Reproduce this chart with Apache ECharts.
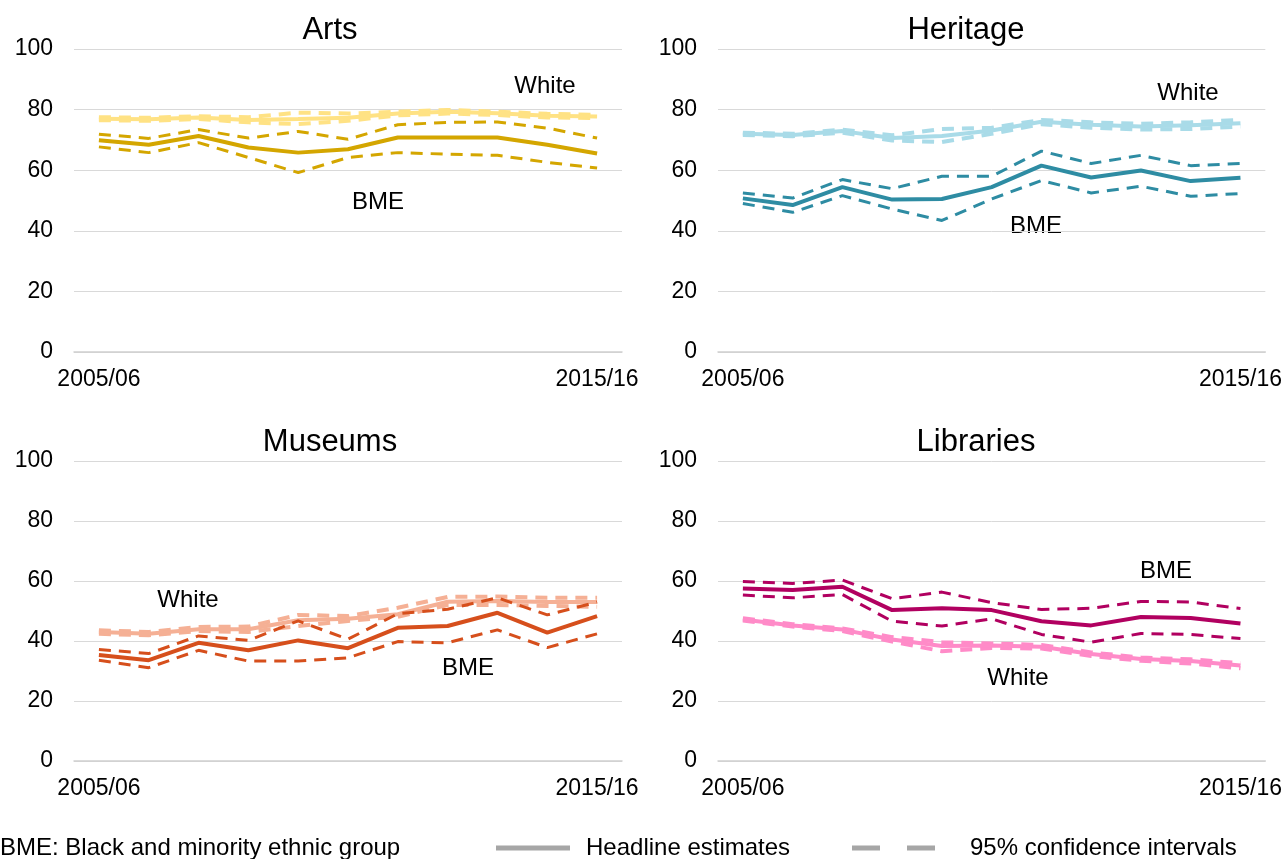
<!DOCTYPE html>
<html>
<head>
<meta charset="utf-8">
<script src="https://cdn.jsdelivr.net/npm/echarts@6/dist/echarts.min.js"></script>
<style>
  html, body { margin: 0; padding: 0; background: #fff; }
  #chart { width: 1285px; height: 859px; }
</style>
</head>
<body>
<div id="chart"></div>
<script>
// years on the x axis
const years = ['2005/06', '2006/07', '2007/08', '2008/09', '2009/10', '2010/11',
               '2011/12', '2012/13', '2013/14', '2014/15', '2015/16'];
const yTicks = [0, 20, 40, 60, 80, 100];

// Arts
const artsWhite      = [77.0, 76.8, 77.4, 76.6, 76.9, 77.3, 78.7, 79.3, 78.8, 78.0, 77.7];
const artsWhiteUpper = [77.5, 77.3, 77.8, 77.5, 79.0, 78.7, 79.3, 79.9, 79.3, 78.6, 78.3];
const artsWhiteLower = [76.5, 76.3, 76.9, 75.8, 75.2, 76.3, 78.1, 78.7, 78.2, 77.4, 77.2];
const artsBme        = [69.9, 68.4, 71.3, 67.5, 65.8, 66.9, 70.8, 70.8, 70.8, 68.4, 65.5];
const artsBmeUpper   = [71.9, 70.5, 73.4, 70.6, 72.8, 70.2, 75.0, 75.8, 75.9, 73.9, 70.6];
const artsBmeLower   = [67.7, 65.8, 69.1, 64.2, 59.2, 64.2, 65.8, 65.3, 64.9, 62.6, 60.7];

// Heritage
const heritageWhite      = [72.0, 71.6, 72.9, 70.6, 71.3, 73.1, 76.0, 75.0, 74.4, 74.8, 75.5];
const heritageWhiteUpper = [72.4, 72.0, 73.4, 71.5, 73.6, 74.0, 76.6, 75.8, 75.3, 75.8, 76.6];
const heritageWhiteLower = [71.6, 71.2, 72.4, 69.8, 69.3, 72.0, 75.2, 74.0, 73.4, 73.6, 74.4];
const heritageBme        = [50.7, 48.5, 54.4, 50.3, 50.5, 54.4, 61.5, 57.6, 59.9, 56.4, 57.5];
const heritageBmeUpper   = [52.5, 50.8, 56.9, 53.9, 58.0, 58.0, 66.3, 62.2, 64.9, 61.5, 62.2];
const heritageBmeLower   = [49.0, 46.1, 51.6, 47.2, 43.4, 50.5, 56.6, 52.5, 54.7, 51.4, 52.3];

// Museums
const museumsWhite      = [43.0, 42.4, 43.9, 43.9, 46.9, 47.4, 48.9, 53.1, 53.3, 53.0, 53.0];
const museumsWhiteUpper = [43.6, 43.0, 44.7, 44.8, 48.7, 48.3, 51.1, 54.7, 54.8, 54.4, 54.4];
const museumsWhiteLower = [42.4, 41.9, 43.3, 43.0, 45.0, 46.7, 48.1, 52.0, 52.0, 51.7, 51.4];
const museumsBme        = [35.3, 33.6, 39.4, 36.9, 40.2, 37.6, 44.4, 45.0, 49.4, 42.8, 48.3];
const museumsBmeUpper   = [37.2, 35.8, 41.7, 40.2, 46.7, 40.6, 49.1, 50.6, 54.4, 48.7, 53.0];
const museumsBmeLower   = [33.6, 31.1, 36.9, 33.3, 33.3, 34.4, 39.8, 39.4, 43.7, 37.8, 42.4];

// Libraries
const librariesWhite      = [47.2, 45.2, 43.8, 40.5, 38.3, 38.5, 38.1, 35.7, 34.0, 33.3, 31.8];
const librariesWhiteUpper = [47.6, 45.6, 44.2, 41.3, 39.6, 39.2, 38.7, 36.2, 34.5, 33.9, 32.6];
const librariesWhiteLower = [46.8, 44.8, 43.3, 39.8, 36.6, 37.7, 37.5, 35.0, 33.4, 32.5, 30.9];
const librariesBme        = [57.5, 57.0, 58.1, 50.3, 50.9, 50.3, 46.6, 45.2, 48.0, 47.7, 45.8];
const librariesBmeUpper   = [59.8, 59.2, 60.3, 54.1, 56.3, 52.8, 50.5, 50.9, 53.2, 53.0, 50.8];
const librariesBmeLower   = [55.3, 54.4, 55.5, 46.6, 45.0, 47.4, 42.2, 39.6, 42.5, 42.2, 40.8];

const FONT = 'Arial, "Liberation Sans", sans-serif';
const DASH = [12, 8];
const LEGEND_GREY = '#a6a6a6';

const panels = [
    { title: 'Arts', white: [artsWhite, artsWhiteUpper, artsWhiteLower],
      bme: [artsBme, artsBmeUpper, artsBmeLower], bmeColor: '#d4a600', whiteColor: '#ffe284',
      grid: { left: 74, top: 49, width: 548, height: 303 }, titlePos: [325, 10],
      whiteLabel: [545, 86], bmeLabel: [378, 202] },
    { title: 'Heritage', white: [heritageWhite, heritageWhiteUpper, heritageWhiteLower],
      bme: [heritageBme, heritageBmeUpper, heritageBmeLower], bmeColor: '#2e8ca3', whiteColor: '#a9dbe8',
      grid: { left: 718, top: 49, width: 548, height: 303 }, titlePos: [961, 10],
      whiteLabel: [1188, 93], bmeLabel: [1036, 226] },
    { title: 'Museums', white: [museumsWhite, museumsWhiteUpper, museumsWhiteLower],
      bme: [museumsBme, museumsBmeUpper, museumsBmeLower], bmeColor: '#d64f1c', whiteColor: '#f5b095',
      grid: { left: 74, top: 461, width: 548, height: 300 }, titlePos: [325, 422],
      whiteLabel: [188, 600], bmeLabel: [468, 668] },
    { title: 'Libraries', white: [librariesWhite, librariesWhiteUpper, librariesWhiteLower],
      bme: [librariesBme, librariesBmeUpper, librariesBmeLower], bmeColor: '#b10060', whiteColor: '#ff8bc8',
      grid: { left: 718, top: 461, width: 548, height: 300 }, titlePos: [971, 422],
      whiteLabel: [1018, 678], bmeLabel: [1166, 571] }
];

function lineSeries(idx, data, color, width, dashed) {
    return {
        type: 'line',
        xAxisIndex: idx,
        yAxisIndex: idx,
        data: data,
        symbol: 'none',
        silent: true,
        lineStyle: { color: color, width: width, type: dashed ? DASH : 'solid', cap: 'butt' }
    };
}

function text(x, y, str, align) {
    return {
        type: 'text', x: x, y: y,
        style: { text: str, fill: '#000', font: '24px ' + FONT, textAlign: align || 'center', textVerticalAlign: 'middle' }
    };
}

const series = [];
const graphics = [];
panels.forEach((p, i) => {
    series.push(lineSeries(i, p.white[1], p.whiteColor, 4, true));
    series.push(lineSeries(i, p.white[2], p.whiteColor, 4, true));
    series.push(lineSeries(i, p.white[0], p.whiteColor, 4, false));
    series.push(lineSeries(i, p.bme[1], p.bmeColor, 3, true));
    series.push(lineSeries(i, p.bme[2], p.bmeColor, 3, true));
    series.push(lineSeries(i, p.bme[0], p.bmeColor, 4, false));
    graphics.push(text(p.whiteLabel[0], p.whiteLabel[1], 'White'));
    graphics.push(text(p.bmeLabel[0], p.bmeLabel[1], 'BME'));
});

// key along the bottom
graphics.push(text(0, 848, 'BME: Black and minority ethnic group', 'left'));
graphics.push({ type: 'line', shape: { x1: 496, y1: 848, x2: 570, y2: 848 },
    style: { stroke: LEGEND_GREY, lineWidth: 5 } });
graphics.push(text(586, 848, 'Headline estimates', 'left'));
graphics.push({ type: 'line', shape: { x1: 852, y1: 848, x2: 936, y2: 848 },
    style: { stroke: LEGEND_GREY, lineWidth: 5, lineDash: [28, 27] } });
graphics.push(text(970, 848, '95% confidence intervals', 'left'));

const option = {
    backgroundColor: '#ffffff',
    animation: false,
    textStyle: { fontFamily: FONT },
    title: panels.map(p => ({
        text: p.title, left: p.titlePos[0], top: p.titlePos[1], textAlign: 'center',
        textStyle: { fontSize: 31, fontWeight: 'normal', color: '#000', fontFamily: FONT }
    })),
    grid: panels.map(p => p.grid),
    xAxis: panels.map((p, i) => ({
        type: 'category',
        gridIndex: i,
        data: years,
        boundaryGap: true,
        axisTick: { show: false },
        axisLine: { show: true, lineStyle: { color: '#d0d0d0', width: 1.5 } },
        axisLabel: {
            interval: (index) => index === 0 || index === years.length - 1,
            color: '#000', fontSize: 23, fontFamily: FONT, margin: 16
        },
        splitLine: { show: false }
    })),
    yAxis: panels.map((p, i) => ({
        type: 'value',
        gridIndex: i,
        min: yTicks[0],
        max: yTicks[yTicks.length - 1],
        interval: 20,
        axisLine: { show: false },
        axisTick: { show: false },
        axisLabel: { color: '#000', fontSize: 23, fontFamily: FONT, margin: 21 },
        splitLine: { lineStyle: { color: '#d9d9d9', width: 1 } }
    })),
    graphic: graphics,
    series: series
};

const chart = echarts.init(document.getElementById('chart'));
chart.setOption(option);
</script>
</body>
</html>
